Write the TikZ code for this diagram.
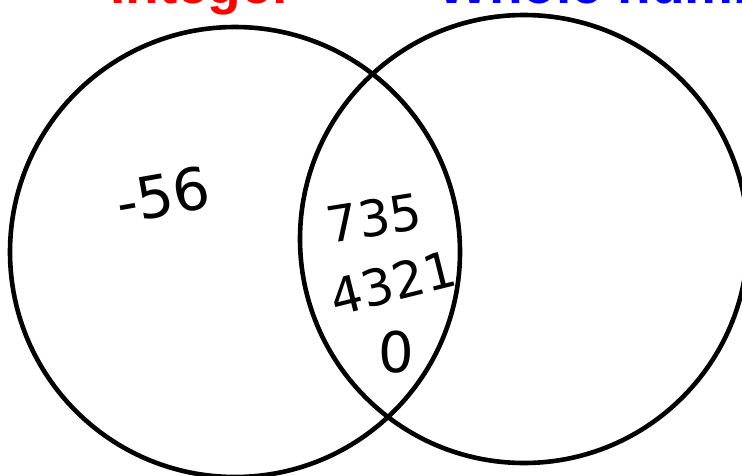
\documentclass[tikz,border=0pt]{standalone}
\usepackage{fontspec}
\setmainfont{DejaVu Sans}
\newfontfamily\labfont{Liberation Sans}
\begin{document}
\begin{tikzpicture}[x=1pt,y=-1pt,
  ring/.style={draw=black,line width=4.6pt},
  hand/.style={font=\fontsize{50}{50}\selectfont,inner sep=0pt},
  title/.style={font=\labfont\bfseries\fontsize{55}{55}\selectfont,inner sep=0pt,anchor=base west}]
\useasboundingbox (0,0) rectangle (742,475);
\begin{scope}
\clip (0,0) rectangle (742,475);
\node[title,text=red] (lint) at (110,3) {Integer};
\node[title,text=blue] (lwhole) at (437,3) {Whole numbers};
\draw[ring] (235,252) circle (225);
\draw[ring] (524,239) circle (224);
\node[hand,rotate=10,font=\fontsize{58}{58}\selectfont] (n56) at (163,195) {-56};
\node[hand,rotate=9] (n735) at (374,218) {735};
\node[hand,rotate=14] (n4321) at (393,283) {4321};
\node[hand,font=\fontsize{56}{56}\selectfont] (n0) at (396,352) {0};
\end{scope}
\end{tikzpicture}
\end{document}
